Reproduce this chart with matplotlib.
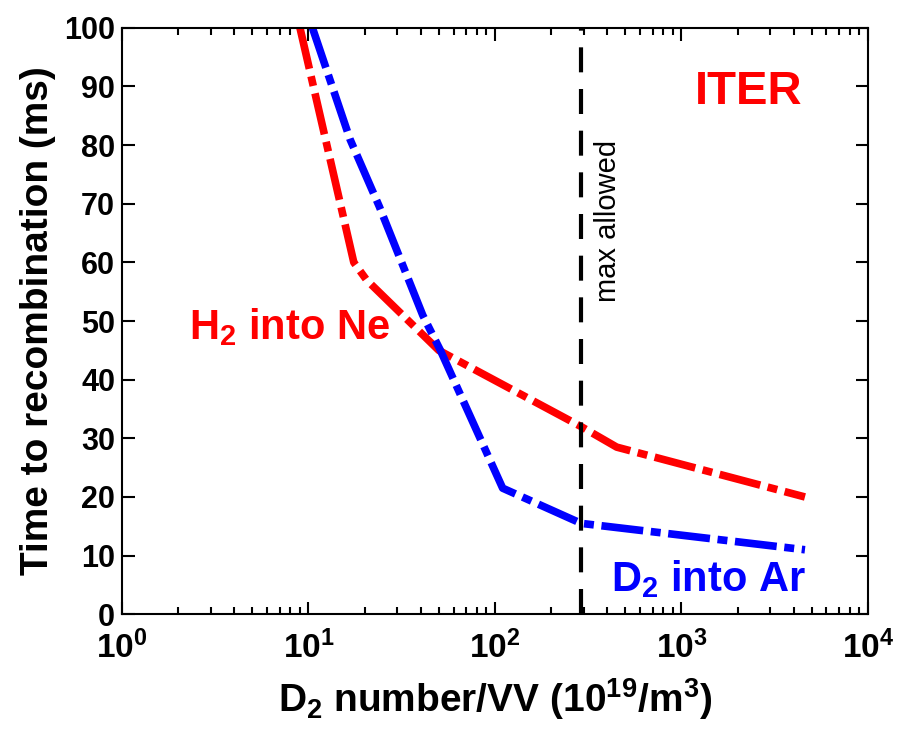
import matplotlib
matplotlib.use("Agg")
import matplotlib.pyplot as plt
from matplotlib.ticker import LogLocator, NullFormatter

plt.rcParams['font.family'] = ['Liberation Sans', 'DejaVu Sans']
plt.rcParams['font.weight'] = 'bold'
plt.rcParams['axes.labelweight'] = 'bold'
plt.rcParams['mathtext.fontset'] = 'custom'
plt.rcParams['mathtext.rm'] = 'Liberation Sans:bold'
plt.rcParams['mathtext.bf'] = 'Liberation Sans:bold'
plt.rcParams['mathtext.it'] = 'Liberation Sans:bold'

# H2 into Ne (red)
ne_x = [9.0, 17.5, 20.5, 50, 290, 450, 4600]
ne_y = [100, 60, 57, 45, 32, 28.5, 20]

# D2 into Ar (blue)
ar_x = [10.5, 16.7, 24, 41, 51, 110, 290, 4600]
ar_y = [100, 81, 69.5, 51, 45, 21.5, 15.5, 11]

max_allowed = 290

fig = plt.figure(figsize=(9.04, 7.33), dpi=100)
ax = fig.add_axes([0.135, 0.162, 0.825, 0.800])

dashdot = (0, (5.5, 1, 1.3, 1))
ax.plot(ne_x, ne_y, color='#ff0000', lw=5.5, linestyle=dashdot, solid_joinstyle='miter')
ax.plot(ar_x, ar_y, color='#0000ff', lw=5.5, linestyle=dashdot, solid_joinstyle='miter')
ax.axvline(max_allowed, color='black', lw=3, linestyle=(0, (6, 4)))

ax.text(max_allowed * 1.17, 67, 'max allowed', rotation=90, fontsize=21,
        fontweight='normal', ha='left', va='center')
ax.text(2300, 89, 'ITER', color='#ff0000', fontsize=34, ha='center', va='center')
ax.text(2.3, 49, r'H$_2$ into Ne', color='#ff0000', fontsize=30, ha='left', va='center')
ax.text(4650, 6, r'D$_2$ into Ar', color='#0000ff', fontsize=30, ha='right', va='center')

ax.set_xscale('log')
ax.set_xlim(1, 1e4)
ax.set_ylim(0, 100)
ax.set_yticks(range(0, 101, 10))
ax.xaxis.set_minor_locator(LogLocator(base=10, subs=range(2, 10)))
ax.xaxis.set_minor_formatter(NullFormatter())

ax.tick_params(which='both', direction='in', top=True, right=True, width=1.5)
ax.tick_params(which='major', length=9)
ax.tick_params(axis='y', pad=5, labelsize=22)
ax.tick_params(axis='x', pad=12, labelsize=24)
ax.tick_params(which='minor', length=5)
for s in ax.spines.values():
    s.set_linewidth(1.5)

ax.set_ylabel('Time to recombination (ms)', fontsize=28, labelpad=6)
ax.set_xlabel(r'D$_2$ number/VV (10$^{19}$/m$^3$)', fontsize=28, labelpad=8)

fig.savefig('out.png', dpi=100)
